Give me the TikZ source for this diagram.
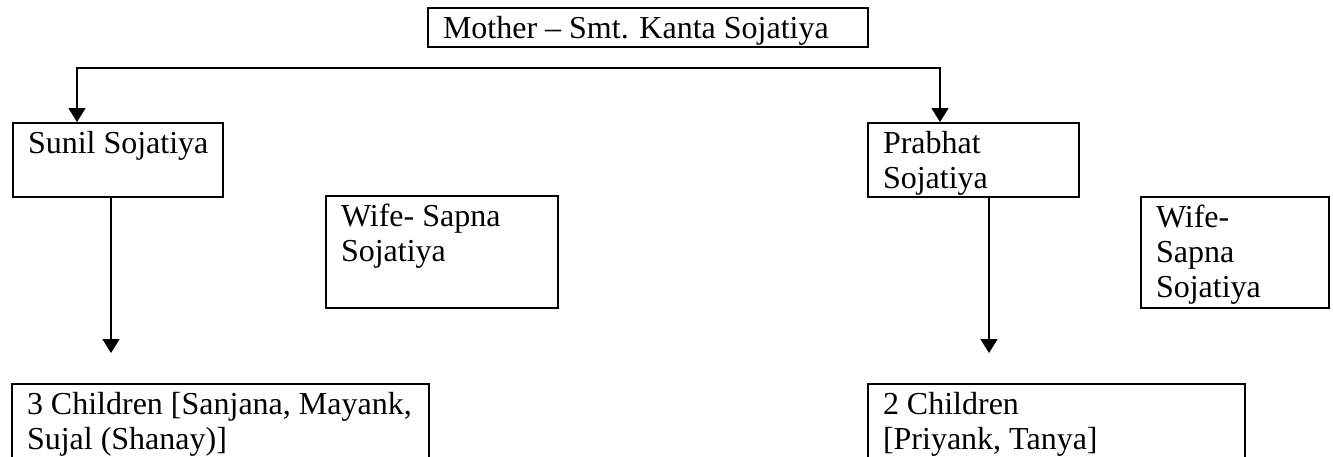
\documentclass[tikz,border=0pt]{standalone}
\usepackage{fontspec}
\setmainfont{Liberation Serif}
\usetikzlibrary{arrows.meta}

% text block of a family box: width, height, lines (top-left aligned)
\newcommand\famtext[3]{\parbox[c][#2][t]{#1}{\raggedright\leftskip=7.5pt\rule{0pt}{15pt}#3}}

\begin{document}
\begin{tikzpicture}[
  x=0.5pt, y=-0.5pt,
  famblock/.style={draw, line width=1pt, anchor=north west, inner sep=0pt,
                   font=\fontsize{16}{17.5}\selectfont},
  conn/.style={line width=0.8pt},
  tip/.style={-{Triangle[length=7pt,width=8.5pt]}},
  tips/.style={{Triangle[length=7pt,width=8.5pt]}-{Triangle[length=7pt,width=8.5pt]}}
]
\clip (0,0) rectangle (1333,456);

% family members
\node[famblock] (mother)  at (427,7)    {\famtext{220pt}{19.5pt}{Mother -- Smt. Kanta Sojatiya}};
\node[famblock] (sunil)   at (12,122)   {\famtext{105pt}{37pt}{Sunil Sojatiya}};
\node[famblock] (wife1)   at (325,195)  {\famtext{116pt}{56pt}{Wife- Sapna\\Sojatiya}};
\node[famblock] (prabhat) at (867,122)  {\famtext{105.5pt}{37pt}{Prabhat\\Sojatiya}};
\node[famblock] (wife2)   at (1140,196) {\famtext{94pt}{55.5pt}{Wife-\\Sapna\\Sojatiya}};
\node[famblock] (kids1)   at (11,383)   {\famtext{208.5pt}{50pt}{3 Children [Sanjana, Mayank,\\Sujal (Shanay)]}};
\node[famblock] (kids2)   at (867,383)  {\famtext{188.5pt}{50pt}{2 Children\\{[Priyank, Tanya]}}};

% branch to the two sons
\coordinate (c1) at (77,68);
\coordinate (c2) at (940,68);
\draw[conn, tips] (c1 |- sunil.north) -- (c1) -- (c2) -- (c2 |- prabhat.north);

% arrows towards the children
\coordinate (k1) at (111,353);
\coordinate (k2) at (989,353);
\draw[conn, tip] (sunil.south -| k1) -- (k1);
\draw[conn, tip] (prabhat.south -| k2) -- (k2);
\end{tikzpicture}
\end{document}
